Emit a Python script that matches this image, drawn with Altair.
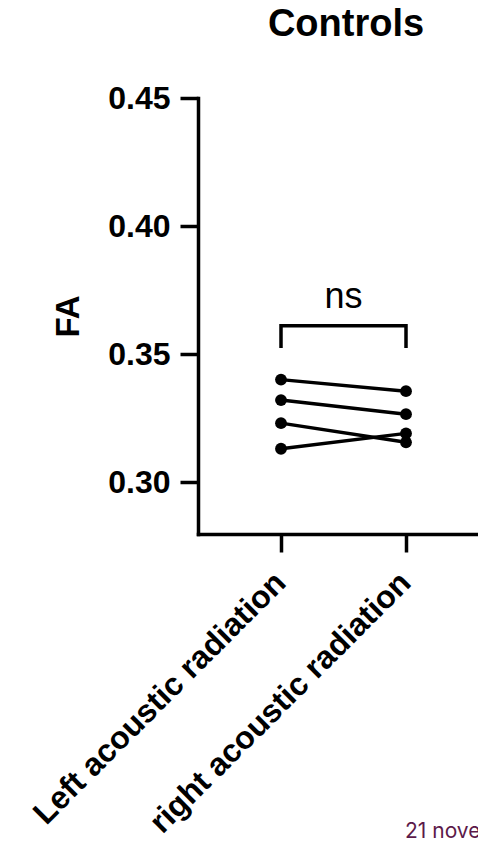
import altair as alt
import pandas as pd

# ---- data ----
categories = ["Left acoustic radiation", "right acoustic radiation"]
subjects = ["S1", "S2", "S3", "S4"]
left_fa = [0.340, 0.332, 0.323, 0.313]
right_fa = [0.3355, 0.3265, 0.3155, 0.319]
y_ticks = [0.30, 0.35, 0.40, 0.45]
sig_label = "ns"
bracket_top = 0.361
bracket_drop = 0.353
footer_text = "21 november"
title_text = "Controls"
y_title = "FA"

FONT = "Liberation Sans"
INK = "black"

# ---- tables ----
rows = []
for s, l, r in zip(subjects, left_fa, right_fa):
    rows.append({"subject": s, "pos": 1, "fa": l})
    rows.append({"subject": s, "pos": 2, "fa": r})
df = pd.DataFrame(rows)

bracket_df = pd.DataFrame({
    "pos": [1, 1, 2, 2],
    "fa": [bracket_drop, bracket_top, bracket_top, bracket_drop],
    "order": [0, 1, 2, 3],
})
sig_df = pd.DataFrame({"pos": [1.5], "fa": [bracket_top], "label": [sig_label]})
footer_df = pd.DataFrame({"label": [footer_text]})

label_expr = f"datum.value == 1 ? '{categories[0]}' : '{categories[1]}'"

xs = alt.Scale(domain=[0.336, 2.576], nice=False, zero=False)
ys = alt.Scale(domain=[0.2797, 0.45], nice=False, zero=False)

x_axis = alt.Axis(
    values=[1, 2], labelExpr=label_expr, title=None, labelAngle=-45,
    labelAlign="right", labelBaseline="middle", labelFontSize=32,
    labelFontWeight="bold", labelFont=FONT, labelColor=INK,
    tickSize=18, tickWidth=3.5, domainWidth=3.5, labelPadding=25,
    labelOffset=-1, grid=False, domainColor=INK, tickColor=INK,
    labelOverlap=False, labelLimit=0, domainCap="square",
)
y_axis = alt.Axis(
    values=y_ticks, format=".2f", labelFontSize=32, labelFontWeight="bold",
    labelFont=FONT, labelColor=INK, tickSize=18, tickWidth=3.5,
    domainWidth=3.5, labelPadding=10, grid=False, domainColor=INK,
    tickColor=INK, title=y_title, titleFontSize=33, titleFontWeight="bold",
    titleFont=FONT, titleColor=INK, titlePadding=22, domainCap="square",
)

x_enc = alt.X("pos:Q", scale=xs, axis=x_axis)
y_enc = alt.Y("fa:Q", scale=ys, axis=y_axis)

lines = alt.Chart(df).mark_line(color=INK, strokeWidth=3.5).encode(
    x=x_enc, y=y_enc, detail="subject:N"
)
points = alt.Chart(df).mark_circle(color=INK, size=140, opacity=1).encode(
    x=x_enc, y=y_enc
)
bracket = alt.Chart(bracket_df).mark_line(color=INK, strokeWidth=3.5, strokeCap="square").encode(
    x=x_enc, y=y_enc, order="order:Q"
)
sig = alt.Chart(sig_df).mark_text(
    font=FONT, fontSize=36, color=INK, baseline="alphabetic", dy=-18
).encode(x=x_enc, y=y_enc, text="label:N")
footer = alt.Chart(footer_df).mark_text(
    font="Inter", fontSize=21, color="#5c1a4a", align="left", baseline="alphabetic"
).encode(x=alt.value(207), y=alt.value(740), text="label:N")

chart = alt.layer(lines, points, bracket, sig, footer).properties(
    width=280,
    height=436,
    title=alt.TitleParams(
        title_text, fontSize=38, font=FONT, fontWeight="bold", color=INK,
        anchor="middle", dx=8, offset=38,
    ),
    autosize=alt.AutoSizeParams(type="none"),
    padding={"left": 198, "top": 98, "right": 0, "bottom": 313},
).configure(background="white").configure_view(stroke=None)

chart.save("out.html", embed_options={"renderer": "svg", "actions": False})
